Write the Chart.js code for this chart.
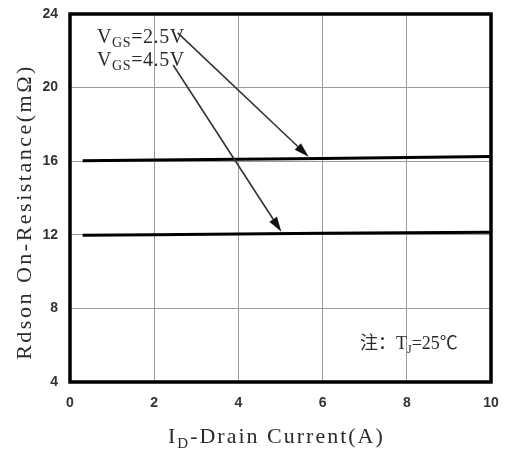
<!DOCTYPE html>
<html>
<head>
<meta charset="utf-8">
<script src="https://cdn.jsdelivr.net/npm/chart.js@4.4.1/dist/chart.umd.min.js"></script>
<style>
  html, body { margin: 0; padding: 0; background: #fff; }
  #wrap { width: 508px; height: 451px; }
</style>
</head>
<body>
<div id="wrap"><canvas id="rds" width="508" height="451"></canvas></div>
<script>
// Rdson vs drain current
const currentA = [0.3, 2, 4, 6, 8, 10];
const rdsVgs25 = [16.02, 16.06, 16.1, 16.14, 16.2, 16.26];
const rdsVgs45 = [11.97, 12.0, 12.04, 12.08, 12.11, 12.14];
const xTicks = [0, 2, 4, 6, 8, 10];
const yTicks = [4, 8, 12, 16, 20, 24];

// arrow start / tip in data units: [x0, y0, x1, y1]
const arrow25 = [2.56, 22.97, 5.67, 16.24];
const arrow45 = [2.45, 21.23, 5.02, 12.16];

const serif = '"Liberation Serif", "Noto Sans CJK SC", serif';

function toPts(xs, ys) {
  return xs.map((x, i) => ({ x: x, y: ys[i] }));
}

// draws text with subscript pieces, returns end x
function drawParts(ctx, parts, x, y, size) {
  parts.forEach(p => {
    const s = p.sub ? Math.round(size * 0.68) : size;
    ctx.font = s + 'px ' + serif;
    ctx.fillText(p.t, x, p.sub ? y + size * 0.22 : y);
    x += ctx.measureText(p.t).width;
  });
  return x;
}

function drawArrow(ctx, ch, a) {
  const xs = ch.scales.x, ys = ch.scales.y;
  const x0 = xs.getPixelForValue(a[0]), y0 = ys.getPixelForValue(a[1]);
  const x1 = xs.getPixelForValue(a[2]), y1 = ys.getPixelForValue(a[3]);
  const ang = Math.atan2(y1 - y0, x1 - x0);
  const len = 15, half = 4.5;
  const bx = x1 - len * Math.cos(ang), by = y1 - len * Math.sin(ang);
  ctx.strokeStyle = '#333';
  ctx.lineWidth = 1.6;
  ctx.beginPath();
  ctx.moveTo(x0, y0);
  ctx.lineTo(bx, by);
  ctx.stroke();
  ctx.fillStyle = '#111';
  ctx.beginPath();
  ctx.moveTo(x1, y1);
  ctx.lineTo(bx + half * Math.sin(ang), by - half * Math.cos(ang));
  ctx.lineTo(bx - half * Math.sin(ang), by + half * Math.cos(ang));
  ctx.closePath();
  ctx.fill();
}

const decor = {
  id: 'decor',
  afterDatasetsDraw(ch) {
    const ctx = ch.ctx, a = ch.chartArea;
    ctx.save();
    drawArrow(ctx, ch, arrow25);
    drawArrow(ctx, ch, arrow45);

    // frame
    ctx.strokeStyle = '#000';
    ctx.lineWidth = 3.5;
    ctx.strokeRect(a.left, a.top, a.right - a.left, a.bottom - a.top);

    ctx.fillStyle = '#2a2a2a';
    ctx.textBaseline = 'alphabetic';
    ctx.textAlign = 'left';
    ctx.letterSpacing = '0.6px';
    drawParts(ctx, [{ t: 'V' }, { t: 'GS', sub: true }, { t: '=2.5V' }], 97, 43, 20);
    drawParts(ctx, [{ t: 'V' }, { t: 'GS', sub: true }, { t: '=4.5V' }], 97, 66, 20);
    ctx.letterSpacing = '0px';
    drawParts(ctx, [{ t: '注：T' }, { t: 'J', sub: true }, { t: '=25℃' }], 360, 349, 18);

    // x title
    ctx.letterSpacing = '2px';
    drawParts(ctx, [{ t: 'I' }, { t: 'D', sub: true }, { t: '-Drain Current(A)' }], 168, 443, 22);

    // y title
    ctx.translate(31, 212);
    ctx.rotate(-Math.PI / 2);
    ctx.textAlign = 'center';
    ctx.letterSpacing = '2.5px';
    ctx.font = '22px ' + serif;
    ctx.fillText('Rdson On-Resistance(mΩ)', 0, 0);
    ctx.restore();
  }
};

new Chart(document.getElementById('rds'), {
  type: 'scatter',
  data: {
    datasets: [
      { label: 'VGS=2.5V', data: toPts(currentA, rdsVgs25) },
      { label: 'VGS=4.5V', data: toPts(currentA, rdsVgs45) }
    ]
  },
  options: {
    responsive: false,
    animation: false,
    showLine: true,
    layout: { padding: { left: 0, top: 14, right: 17, bottom: 0 } },
    elements: {
      point: { radius: 0 },
      line: { borderColor: '#000', borderWidth: 3, tension: 0 }
    },
    plugins: { legend: { display: false }, tooltip: { enabled: false } },
    scales: {
      x: {
        type: 'linear', min: 0, max: 10,
        afterBuildTicks: s => { s.ticks = xTicks.map(v => ({ value: v })); },
        afterFit: s => { s.height = 69; s.paddingLeft = 0; s.paddingRight = 0; },
        grid: { color: '#9a9a9a', lineWidth: 1, drawTicks: false },
        border: { display: false },
        ticks: { padding: 13, color: '#333', font: { family: '"Liberation Sans", Arial', size: 14, weight: 'bold' } }
      },
      y: {
        type: 'linear', min: 4, max: 24,
        afterBuildTicks: s => { s.ticks = yTicks.map(v => ({ value: v })); },
        afterFit: s => { s.width = 70; s.paddingTop = 0; s.paddingBottom = 0; },
        grid: { color: '#9a9a9a', lineWidth: 1, drawTicks: false },
        border: { display: false },
        ticks: { padding: 12, color: '#333', font: { family: '"Liberation Sans", Arial', size: 14, weight: 'bold' } }
      }
    }
  },
  plugins: [decor]
});
</script>
</body>
</html>
